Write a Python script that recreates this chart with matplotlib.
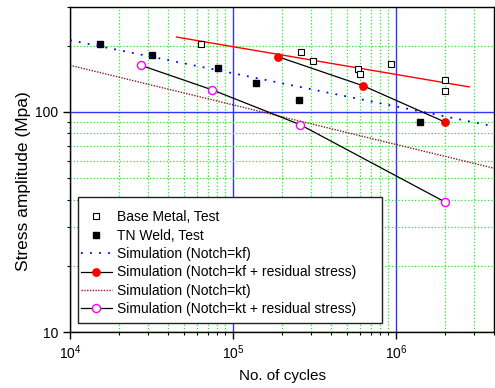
#CURVA S-N (ESFUERZO VS CICLOS) - plot.py
import numpy as np
import matplotlib
matplotlib.use("Agg")
import matplotlib.pyplot as plt
from matplotlib.patches import Rectangle
from matplotlib.ticker import LogLocator, FixedLocator, NullFormatter, FixedFormatter

plt.rcParams['font.family'] = ['Liberation Sans', 'DejaVu Sans']
plt.rcParams['mathtext.default'] = 'regular'

#DATOS
# metal base, ensayo
base_ciclos = [63700, 260000, 312000, 588000, 601000, 927000, 2.0e6, 2.0e6]
base_esfuerzo = [204, 188, 171, 156, 149, 165, 140, 125]
# soldadura TN, ensayo
tn_ciclos = [15300, 31700, 80900, 137700, 253000, 1.40e6]
tn_esfuerzo = [204, 181, 158, 135, 113, 90]
# simulacion kf
kf_ciclos = [1e4, 4e6]
kf_esfuerzo = [212, 86]
# simulacion kf + esfuerzo residual
kfr_ciclos = [1.9e5, 6.3e5, 2.0e6]
kfr_esfuerzo = [178, 131.5, 90]
# simulacion kt
kt_ciclos = [1e4, 4e6]
kt_esfuerzo = [163, 55.5]
# simulacion kt + esfuerzo residual
ktr_ciclos = [27200, 74700, 259000, 2.0e6]
ktr_esfuerzo = [163, 126, 87.5, 39]
# ajuste del metal base (linea roja)
ajuste_ciclos = [45100, 2.82e6]
ajuste_esfuerzo = [219, 130]

#FIGURA
fig = plt.figure(figsize=(4.95, 3.88), dpi=100)
ax = fig.add_axes([0.1414, 0.1443, 0.8566, 0.8377])
ax.set_xscale('log')
ax.set_yscale('log')
ax.set_xlim(1e4, 4e6)
ax.set_ylim(10, 300)

#REJILLA: menor verde punteada, mayor azul
ax.xaxis.set_minor_locator(LogLocator(base=10, subs=np.arange(2, 10)))
ax.yaxis.set_minor_locator(LogLocator(base=10, subs=np.arange(2, 10)))
ax.grid(which='minor', color='#22ee22', linestyle=':', linewidth=0.9)
ax.grid(which='major', color='#3333ff', linestyle='-', linewidth=1.0)
ax.set_axisbelow(True)

#CURVAS
ax.plot(ajuste_ciclos, ajuste_esfuerzo, color='red', linewidth=1.0)
ax.plot(base_ciclos, base_esfuerzo, linestyle='none', marker='s', markersize=5,
        markerfacecolor='white', markeredgecolor='black', markeredgewidth=0.8,
        label='Base Metal, Test')
ax.plot(tn_ciclos, tn_esfuerzo, linestyle='none', marker='s', markersize=5,
        color='black', label='TN Weld, Test')
ax.plot(kf_ciclos, kf_esfuerzo, color='blue', linestyle=(0, (1, 4)), linewidth=1.3,
        label='Simulation (Notch=kf)')
ax.plot(kfr_ciclos, kfr_esfuerzo, color='black', linewidth=0.9, marker='o', markersize=5.3,
        markerfacecolor='red', markeredgecolor='red',
        label='Simulation (Notch=kf + residual stress)')
ax.plot(kt_ciclos, kt_esfuerzo, color='#8b1a1a', linestyle=(0, (1, 1)), linewidth=1.0,
        label='Simulation (Notch=kt)')
ax.plot(ktr_ciclos, ktr_esfuerzo, color='black', linewidth=0.9, marker='o', markersize=5.8,
        markerfacecolor='white', markeredgecolor='magenta', markeredgewidth=1.0,
        label='Simulation (Notch=kt + residual stress)')

#EJES Y ETIQUETAS
ax.xaxis.set_major_locator(FixedLocator([1e4, 1e5, 1e6]))
ax.xaxis.set_major_formatter(FixedFormatter(['$10^4$', '$10^5$', '$10^6$']))
ax.xaxis.set_minor_formatter(NullFormatter())
ax.yaxis.set_major_locator(FixedLocator([10, 100]))
ax.yaxis.set_major_formatter(FixedFormatter(['10', '100']))
ax.yaxis.set_minor_formatter(NullFormatter())
ax.tick_params(which='major', direction='out', length=5, width=1, labelsize=10)
ax.tick_params(which='minor', direction='out', length=2.5, width=0.8)
for lado in ['left', 'bottom', 'right', 'top']:
    ax.spines[lado].set_linewidth(1.0)
ax.set_xlabel('No. of cycles', fontsize=11, labelpad=5)
ax.set_ylabel('Stress amplitude (Mpa)', fontsize=12.5)
ax.yaxis.set_label_coords(-0.092, 0.465)  # un poco mas abajo, como el original

#LEYENDA: caja dibujada aparte (mas ancha que el texto, como en el original)
caja = Rectangle((0.0189, 0.0277), 0.717, 0.388, transform=ax.transAxes,
                 facecolor='white', edgecolor='#222222', linewidth=1.0, zorder=4)
ax.add_patch(caja)
leg = ax.legend(loc='upper left', bbox_to_anchor=(0.0248, 0.375), fontsize=10,
                frameon=False, handlelength=2.3, handletextpad=0.33,
                labelspacing=0.32, borderpad=0, borderaxespad=0)
leg.set_zorder(5)

fig.savefig('out.png', dpi=100)
